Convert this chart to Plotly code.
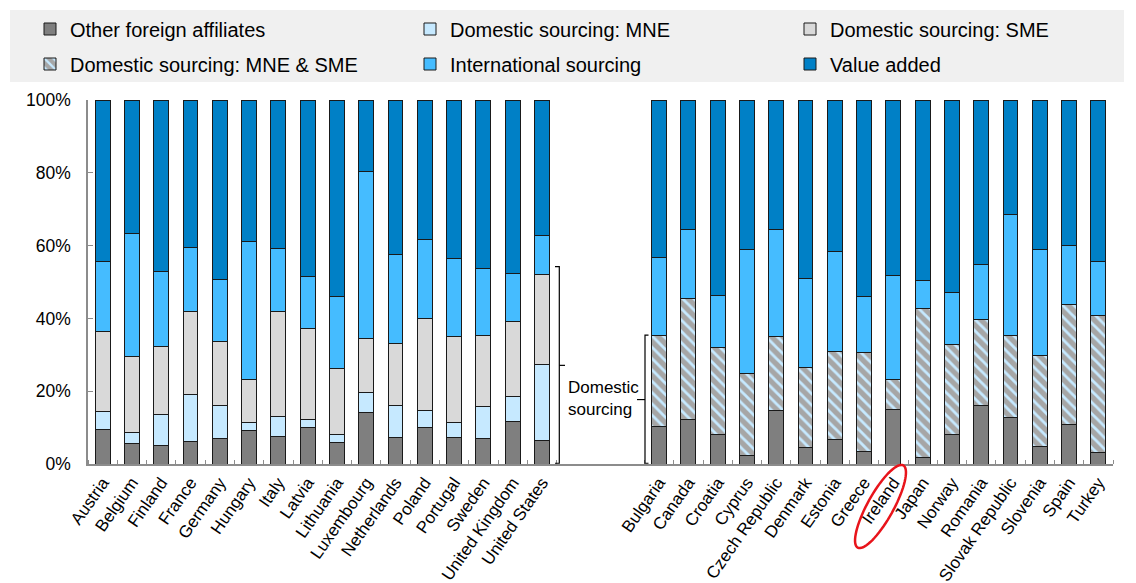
import math
import plotly.graph_objects as go

# ---- data: shares of gross output (%) ----
left_countries = ["Austria", "Belgium", "Finland", "France", "Germany", "Hungary", "Italy",
                  "Latvia", "Lithuania", "Luxembourg", "Netherlands", "Poland", "Portugal",
                  "Sweden", "United Kingdom", "United States"]
left_other = [9.5, 5.5, 5.1, 6.2, 7.1, 9.1, 7.6, 10.0, 6.0, 14.1, 7.3, 10.0, 7.3, 7.1, 11.7, 6.5]
left_mne = [4.9, 3.2, 8.4, 12.8, 9.1, 2.3, 5.4, 2.3, 2.0, 5.6, 8.9, 4.7, 4.1, 8.7, 6.8, 20.9]
left_sme = [22.1, 20.9, 18.8, 23.0, 17.4, 11.9, 29.0, 24.8, 18.3, 14.7, 17.0, 25.3, 23.7, 19.6, 20.7, 24.7]
left_intl = [19.2, 33.6, 20.6, 17.6, 17.1, 37.7, 17.3, 14.5, 19.8, 46.0, 24.3, 21.6, 21.4, 18.2, 13.1, 10.7]
left_va = [44.3, 36.8, 47.1, 40.4, 49.3, 39.0, 40.7, 48.4, 53.9, 19.6, 42.5, 38.4, 43.5, 46.4, 47.7, 37.2]

right_countries = ["Bulgaria", "Canada", "Croatia", "Cyprus", "Czech Republic", "Denmark", "Estonia",
                   "Greece", "Ireland", "Japan", "Norway", "Romania", "Slovak Republic", "Slovenia",
                   "Spain", "Turkey"]
right_other = [10.4, 12.2, 8.2, 2.4, 14.6, 4.6, 6.6, 3.3, 15.0, 1.8, 8.0, 16.2, 12.8, 4.9, 10.8, 3.2]
right_domestic = [24.8, 33.3, 23.9, 22.5, 20.4, 22.0, 24.4, 27.4, 8.3, 40.8, 24.8, 23.4, 22.5, 25.0, 33.0, 37.7]
right_intl = [21.5, 19.0, 14.3, 34.0, 29.5, 24.4, 27.4, 15.4, 28.5, 7.7, 14.2, 15.1, 33.2, 28.9, 16.3, 14.7]
right_va = [43.3, 35.5, 53.6, 41.1, 35.5, 49.0, 41.6, 53.9, 48.2, 49.7, 53.0, 45.3, 31.5, 41.2, 39.9, 44.4]

y_ticks = [0, 20, 40, 60, 80, 100]

# ---- styling ----
FONT = "Liberation Sans, Arial, sans-serif"
C_OTHER = "#7F7F7F"
C_MNE = "#C6E9FF"
C_SME = "#D9D9D9"
C_HATCH = "#A6A6A6"
C_INTL = "#45BCFF"
C_VA = "#0080C6"
OUTLINE = dict(color="#1A1A1A", width=1)

# slot positions: left group, a three-slot gap, right group
GAP = 3
x_left = list(range(len(left_countries)))
x_right = [len(left_countries) + GAP + i for i in range(len(right_countries))]
x_all = x_left + x_right
labels_all = left_countries + right_countries

# plot-area geometry (pixels) used for legend placement and overlays
W, H = 1136, 583
ML, MR, MT, MB = 88, 23, 100, 119
n_slots = len(left_countries) + GAP + len(right_countries)
slot_px = (W - ML - MR) / n_slots
plot_h = H - MT - MB


def px_to_x(px):
    return (px - ML) / slot_px - 0.5


def px_to_paper_y(py):
    return (H - MB - py) / plot_h


def px_to_paper_x(px):
    return (px - ML) / (W - ML - MR)


# each legend entry gets its own legend box: 3 columns x 2 rows
col_px = [30, 410, 790]
row_px = [29, 64]
legend_ids = ["legend", "legend2", "legend3", "legend4", "legend5", "legend6"]

fig = go.Figure()
fig.add_bar(x=x_all, y=left_other + right_other, name="Other foreign affiliates",
            marker=dict(color=C_OTHER, line=OUTLINE), legend=legend_ids[0], showlegend=True)
fig.add_bar(x=x_left, y=left_mne, name="Domestic sourcing: MNE",
            marker=dict(color=C_MNE, line=OUTLINE), legend=legend_ids[1], showlegend=True)
fig.add_bar(x=x_left, y=left_sme, name="Domestic sourcing: SME",
            marker=dict(color=C_SME, line=OUTLINE), legend=legend_ids[2], showlegend=True)
fig.add_bar(x=x_right, y=right_domestic, name="Domestic sourcing: MNE & SME",
            marker=dict(color=C_HATCH, line=OUTLINE,
                        pattern=dict(shape="\\", bgcolor=C_HATCH, fgcolor=C_MNE,
                                     size=8, solidity=0.35, fillmode="replace")),
            legend=legend_ids[3], showlegend=True)
fig.add_bar(x=x_all, y=left_intl + right_intl, name="International sourcing",
            marker=dict(color=C_INTL, line=OUTLINE), legend=legend_ids[4], showlegend=True)
fig.add_bar(x=x_all, y=left_va + right_va, name="Value added",
            marker=dict(color=C_VA, line=OUTLINE), legend=legend_ids[5], showlegend=True)

legend_layout = {}
for i, lid in enumerate(legend_ids):
    legend_layout[lid] = dict(
        orientation="h", x=px_to_paper_x(col_px[i % 3]), xanchor="left",
        y=px_to_paper_y(row_px[i // 3]), yanchor="middle",
        bgcolor="rgba(0,0,0,0)", font=dict(size=20, color="#000000"),
    )

shapes = []
# grey band behind the legend
shapes.append(dict(type="rect", xref="paper", yref="paper", layer="below",
                   x0=px_to_paper_x(10), x1=px_to_paper_x(1124),
                   y0=px_to_paper_y(82), y1=px_to_paper_y(10),
                   fillcolor="#F0F0F0", line=dict(width=0)))

# "Domestic sourcing" brackets
bl = dict(color="#000000", width=1.2)
xa, xt, xm = px_to_x(559.3), px_to_x(555), px_to_x(565)
top_l = 54.2
shapes.append(dict(type="path", xref="x", yref="y", line=bl,
                   path=f"M{xt},{top_l} L{xa},{top_l} L{xa},0.2 L{xt},0.2"))
shapes.append(dict(type="line", xref="x", yref="y", line=bl,
                   x0=xa, x1=xm, y0=top_l / 2, y1=top_l / 2))
xb, xbt, xbm = px_to_x(645), px_to_x(648.5), px_to_x(637)
top_r = 35.4
shapes.append(dict(type="path", xref="x", yref="y", line=bl,
                   path=f"M{xbt},{top_r} L{xb},{top_r} L{xb},0.2 L{xbt},0.2"))
shapes.append(dict(type="line", xref="x", yref="y", line=bl,
                   x0=xb, x1=xbm, y0=top_r / 2, y1=top_r / 2))

# red ellipse around the Ireland label
cx, cy, a, b, ang = 880.5, 506.5, 47, 13, math.radians(61)
pts = []
for k in range(73):
    t = 2 * math.pi * k / 72
    ex = a * math.cos(t)
    ey = b * math.sin(t)
    px = cx + ex * math.cos(ang) - ey * math.sin(ang)
    py = cy - (ex * math.sin(ang) + ey * math.cos(ang))
    pts.append((px_to_x(px), px_to_paper_y(py)))
path = "M" + " L".join(f"{x:.4f},{y:.4f}" for x, y in pts) + " Z"
shapes.append(dict(type="path", xref="x", yref="paper", path=path,
                   line=dict(color="#E8141B", width=2.5)))

boundaries = [i - 0.5 for i in x_left] + [x_left[-1] + 0.5] + \
             [i - 0.5 for i in x_right] + [x_right[-1] + 0.5]

fig.update_layout(
    width=W, height=H,
    showlegend=True,
    margin=dict(l=ML, r=MR, t=MT, b=MB, autoexpand=False),
    paper_bgcolor="white", plot_bgcolor="white",
    font=dict(family=FONT, size=17, color="#000000"),
    barmode="stack", bargap=0.49,
    shapes=shapes,
    annotations=[dict(x=px_to_x(566), y=18.0, xref="x", yref="y",
                      text="Domestic<br>sourcing", showarrow=False,
                      xanchor="left", yanchor="middle", align="left",
                      font=dict(size=17))],
    xaxis=dict(range=[-0.5, n_slots - 0.5], tickmode="array", tickvals=x_all,
               ticktext=labels_all, tickangle=-55, ticks="",
               showline=True, linecolor="#8C8C8C", linewidth=2,
               showgrid=False, zeroline=False, tickfont=dict(size=17),
               minor=dict(tickmode="array", tickvals=boundaries, ticks="inside",
                          ticklen=4, tickcolor="#8C8C8C", tickwidth=1, showgrid=False)),
    yaxis=dict(range=[0, 100], tickmode="array", tickvals=y_ticks,
               ticktext=[f"{v}%" for v in y_ticks], ticks="inside", ticklen=5,
               tickcolor="#8C8C8C", showline=True, linecolor="#8C8C8C", linewidth=1.5,
               showgrid=False, zeroline=False, tickfont=dict(size=17.5),
               ticklabelstandoff=12),
    **legend_layout,
)

fig.write_html("out.html")
